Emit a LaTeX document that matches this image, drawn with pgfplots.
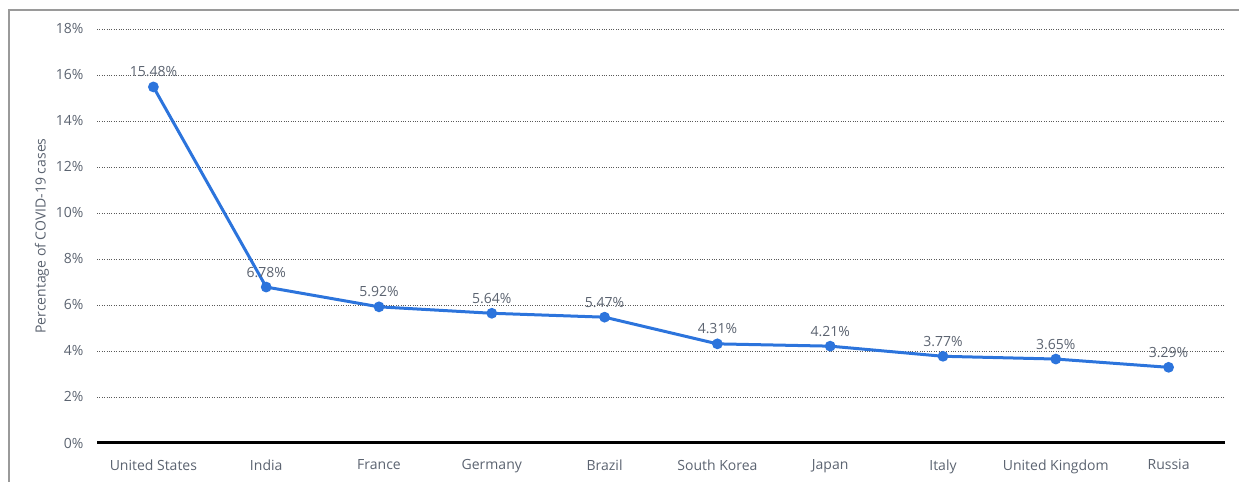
\documentclass[border=0pt]{standalone}
\usepackage{fontspec}
\setmainfont{Open Sans}
\usepackage{pgfplots}
\pgfplotsset{compat=1.18}
\definecolor{txt}{HTML}{5B6370}
\definecolor{lineblue}{HTML}{2C74DC}
\definecolor{frame}{HTML}{9A9A9A}
\begin{document}
\begin{tikzpicture}[x=1bp,y=1bp]
\path[use as bounding box] (0,0) rectangle (1239,482);
\draw[frame, line width=1.6bp] (9,0) -- (9,472) -- (1239,472);
\begin{axis}[
  at={(97bp,39bp)}, anchor=south west,
  scale only axis, width=1128bp, height=414bp,
  xmin=-0.5, xmax=9.5, ymin=0, ymax=18,
  xtick={0,...,9},
  xticklabels={United States,India,France,Germany,Brazil,South Korea,Japan,Italy,United Kingdom,Russia},
  ytick={0,2,...,18},
  yticklabel={\pgfmathprintnumber{\tick}\%},
  /pgf/number format/assume math mode=true,
  axis x line=bottom, axis y line=left,
  y axis line style={draw=none},
  x axis line style={black, line width=3bp, -},
  ymajorgrids, grid style={dotted, line width=0.9bp, black!65},
  major tick length=0pt,
  tick label style={font=\fontsize{14bp}{16bp}\selectfont, text=txt},
  xticklabel style={yshift=-13bp},
  yticklabel style={xshift=-10bp},
  ylabel={Percentage of COVID-19 cases},
  ylabel style={font=\fontsize{14bp}{16bp}\selectfont, text=txt},
  clip=false,
  nodes near coords={\pgfmathprintnumber[fixed,fixed zerofill,precision=2]{\pgfplotspointmeta}\%},
  nodes near coords style={font=\fontsize{14bp}{16bp}\selectfont, text=txt, anchor=south, yshift=5bp},
]
\addplot[lineblue, line width=3bp, mark=*, mark size=3.8bp, mark options={fill=lineblue, draw=lineblue}] coordinates {
(0,15.48) (1,6.78) (2,5.92) (3,5.64) (4,5.47) (5,4.31) (6,4.21) (7,3.77) (8,3.65) (9,3.29)};
\end{axis}
\end{tikzpicture}
\end{document}
